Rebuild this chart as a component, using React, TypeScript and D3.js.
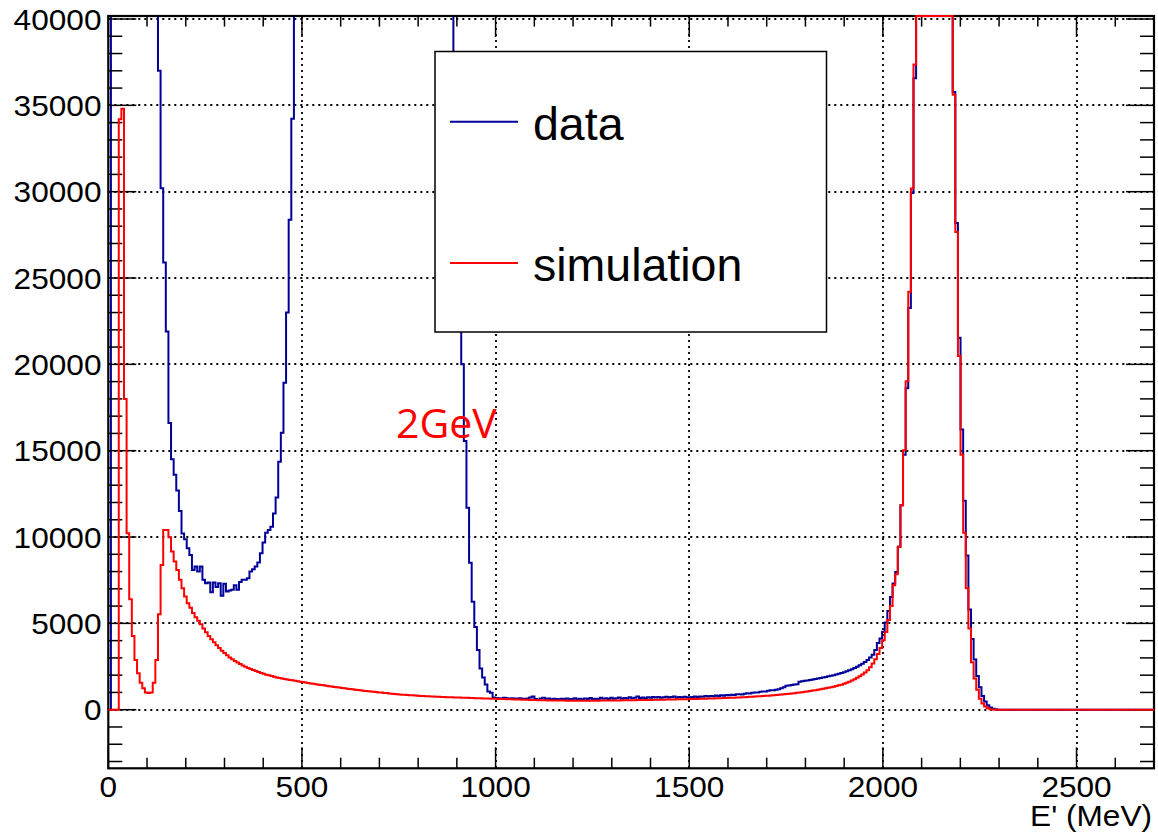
import React from 'react';
import * as d3 from 'd3';

// ---------------- data ----------------
const X_MIN = 0;
const X_MAX = 2700;
const BIN_WIDTH = 6.75; // 400 bins over 0..2700 MeV

// measured data (blue)
const dataCounts: number[] = [
  0, 250000, 240000, 225000, 210000, 190000, 170000, 150000, 130000, 115000,
  100000, 90000, 80000, 72000, 65000, 58000, 52000, 47000, 43000, 37000,
  30200, 25900, 21900, 16600, 14500, 13600, 12700, 11500, 10200, 9870,
  9350, 8960, 8090, 8290, 8000, 8290, 7520, 7320, 7360, 6800,
  7360, 7100, 7320, 6600, 7300, 6850, 6900, 6940, 7200, 6950,
  7400, 7520, 7520, 7610, 8000, 8130, 8290, 8520, 9060, 9680,
  10250, 10400, 10600, 11360, 12290, 14360, 16040, 18940, 23000, 28380,
  34230, 42000, 48000, 55000, 62000, 70000, 78000, 86000, 94000, 102000,
  110000, 118000, 125000, 132000, 138000, 143000, 147000, 150000, 152000, 153000,
  153000, 152000, 150000, 147000, 143000, 139000, 134000, 129000, 124000, 119000,
  114000, 109000, 104000, 99000, 94000, 89000, 85000, 81000, 77000, 73000,
  70000, 67000, 64000, 61000, 58000, 56000, 54000, 52000, 50000, 48500,
  47000, 46000, 45000, 44000, 43500, 43000, 42500, 42000, 41500, 41000,
  40800, 40500, 34000, 28000, 23000, 20000, 15560, 11700, 8510, 6250,
  4790, 3460, 2390, 1860, 1460, 1060, 980, 700, 680, 660,
  650, 690, 660, 640, 670, 650, 630, 660, 640, 620,
  650, 700, 760, 620, 580, 650, 690, 640, 650, 610,
  640, 620, 600, 640, 620, 650, 600, 620, 660, 610,
  630, 600, 650, 620, 680, 620, 640, 610, 690, 640,
  660, 620, 690, 640, 660, 700, 640, 680, 650, 720,
  660, 690, 760, 680, 700, 670, 720, 690, 740, 700,
  730, 690, 720, 750, 700, 730, 760, 710, 740, 700,
  750, 720, 700, 740, 760, 730, 770, 750, 790, 760,
  800, 780, 820, 800, 830, 810, 850, 830, 870, 850,
  890, 900, 880, 920, 950, 940, 980, 1000, 990, 1040,
  1060, 1050, 1100, 1130, 1120, 1160, 1190, 1240, 1300, 1380,
  1400, 1430, 1460, 1480, 1620, 1650, 1670, 1690, 1720, 1750,
  1780, 1810, 1840, 1870, 1900, 1930, 1960, 2000, 2040, 2080,
  2120, 2170, 2220, 2280, 2340, 2410, 2490, 2570, 2660, 2760,
  2880, 3020, 3180, 3460, 3860, 4120, 4520, 5050, 5720, 6520,
  7310, 7980, 9440, 11840, 14760, 18620, 23270, 29920, 36570, 46000,
  56000, 68000, 80000, 91000, 99000, 103000, 102000, 97000, 88000, 76000,
  63000, 52000, 44000, 35770, 28190, 21540, 16220, 12100, 8930, 5800,
  4100, 2900, 1950, 1300, 800, 470, 260, 130, 60, 20,
  0, 0, 0, 0, 0, 0, 0, 0, 0, 0,
  0, 0, 0, 0, 0, 0, 0, 0, 0, 0,
  0, 0, 0, 0, 0, 0, 0, 0, 0, 0,
  0, 0, 0, 0, 0, 0, 0, 0, 0, 0,
  0, 0, 0, 0, 0, 0, 0, 0, 0, 0,
  0, 0, 0, 0, 0, 0, 0, 0, 0, 0,
];

// simulation (red)
const simCounts: number[] = [
  0, 0, 0, 0, 34200, 34800, 18000, 10220, 6400, 4270,
  2880, 2110, 1560, 1240, 1000, 960, 990, 1560, 2880, 5530,
  8380, 10410, 10410, 9990, 9160, 8580, 8090, 7520, 7030, 6550,
  6160, 5900, 5600, 5350, 5150, 4950, 4700, 4480, 4270, 4080,
  3900, 3730, 3570, 3420, 3280, 3150, 3030, 2920, 2820, 2730,
  2640, 2560, 2490, 2420, 2360, 2300, 2240, 2180, 2130, 2080,
  2030, 1990, 1950, 1910, 1870, 1840, 1810, 1780, 1750, 1720,
  1700, 1670, 1650, 1620, 1600, 1570, 1550, 1520, 1500, 1480,
  1450, 1430, 1410, 1380, 1360, 1340, 1320, 1300, 1280, 1260,
  1240, 1220, 1200, 1180, 1160, 1140, 1120, 1100, 1090, 1070,
  1050, 1040, 1020, 1000, 990, 970, 960, 940, 930, 910,
  900, 880, 870, 860, 850, 840, 830, 820, 810, 800,
  790, 785, 775, 770, 760, 755, 745, 740, 735, 725,
  720, 715, 710, 705, 700, 695, 690, 685, 680, 675,
  670, 665, 660, 655, 650, 645, 640, 635, 630, 625,
  620, 615, 610, 605, 600, 595, 590, 585, 580, 575,
  570, 565, 560, 555, 550, 548, 545, 542, 540, 537,
  535, 532, 530, 528, 526, 525, 524, 523, 522, 521,
  520, 520, 520, 520, 520, 522, 524, 525, 526, 528,
  530, 531, 533, 535, 537, 539, 541, 543, 545, 547,
  550, 552, 555, 557, 560, 562, 565, 568, 571, 574,
  577, 580, 583, 586, 589, 592, 595, 598, 601, 604,
  607, 610, 613, 617, 621, 625, 629, 633, 637, 642,
  647, 652, 657, 662, 667, 673, 679, 685, 691, 698,
  705, 712, 720, 728, 736, 745, 754, 763, 772, 782,
  792, 803, 814, 826, 838, 851, 864, 878, 893, 908,
  924, 940, 958, 976, 995, 1015, 1036, 1058, 1081, 1105,
  1130, 1156, 1183, 1211, 1240, 1270, 1302, 1336, 1372, 1410,
  1450, 1500, 1560, 1620, 1690, 1770, 1850, 1940, 2040, 2150,
  2290, 2460, 2670, 2920, 3220, 3580, 4020, 4500, 5200, 6000,
  7200, 7850, 9440, 11840, 15030, 19020, 24200, 30190, 37370, 46000,
  56000, 68000, 80000, 91000, 99000, 103000, 102000, 97000, 88000, 76000,
  63000, 52000, 44000, 35610, 27660, 20480, 14760, 10250, 7040, 4700,
  2750, 1800, 1150, 630, 360, 190, 80, 30, 10, 0,
  0, 0, 0, 0, 0, 0, 0, 0, 0, 0,
  0, 0, 0, 0, 0, 0, 0, 0, 0, 0,
  0, 0, 0, 0, 0, 0, 0, 0, 0, 0,
  0, 0, 0, 0, 0, 0, 0, 0, 0, 0,
  0, 0, 0, 0, 0, 0, 0, 0, 0, 0,
  0, 0, 0, 0, 0, 0, 0, 0, 0, 0,
];

const xMajorTicks = [0, 500, 1000, 1500, 2000, 2500];
const yMajorTicks = [0, 5000, 10000, 15000, 20000, 25000, 30000, 35000, 40000];
const legendLabels = ['data', 'simulation'];
const xTitle = "E' (MeV)";
const annotation = '2GeV';

const BLUE = '#000099';
const RED = '#ff0000';
const FONT = "'Liberation Sans', Arial, Helvetica, sans-serif";
const SX = 1.09; // horizontal stretch of axis text

export default function App() {
  const W = 1158;
  const H = 837;
  const fL = 108.3, fR = 1154, fT = 16, fB = 768.3;

  const x = d3.scaleLinear().domain([X_MIN, X_MAX]).range([fL, fR]);
  const y = d3.scaleLinear().domain([0, 40000]).range([709.7, 19]);
  const yLo = y.invert(fB);
  const yHi = y.invert(fT);

  const histPath = (counts: number[]) => {
    const clamp = (v: number) => Math.max(yLo, Math.min(yHi, v));
    const pts: [number, number][] = counts.map((c, i) => [X_MIN + i * BIN_WIDTH, clamp(c)]);
    pts.push([X_MIN + counts.length * BIN_WIDTH, clamp(counts[counts.length - 1])]);
    return d3
      .line<[number, number]>()
      .x((d) => x(d[0]))
      .y((d) => y(d[1]))
      .curve(d3.curveStepAfter)(pts) as string;
  };

  const xMinor = d3.range(0, X_MAX + 1, 100).filter((v) => v % 500 !== 0);
  const yMinor = d3.range(-3000, 40001, 1000).filter((v) => v % 5000 !== 0);

  const xMajLen = 21, xMinLen = 10.6, yMajLen = 28, yMinLen = 14;

  const axisText = (key: string, tx: number, ty: number, anchor: string, label: string | number) => (
    <text
      key={key}
      transform={`translate(${tx},${ty}) scale(${SX},1)`}
      textAnchor={anchor}
      fontFamily={FONT}
      fontSize={29}
      fill="#000"
    >
      {label}
    </text>
  );

  return (
    <svg
      width={W}
      height={H}
      viewBox={`0 0 ${W} ${H}`}
      style={{ position: 'absolute', left: 0, top: 0, background: '#fff' }}
    >
      <rect x={0} y={0} width={W} height={H} fill="#fff" />
      {/* grid */}
      <g stroke="#000" strokeWidth={1.8} strokeDasharray="2,4">
        {xMajorTicks.filter((v) => v > X_MIN).map((v) => (
          <line key={'gx' + v} x1={Math.round(x(v))} x2={Math.round(x(v))} y1={fT} y2={fB} />
        ))}
        {yMajorTicks.map((v) => (
          <line key={'gy' + v} x1={fL} x2={fR} y1={Math.round(y(v))} y2={Math.round(y(v))} />
        ))}
      </g>

      {/* data histogram */}
      <path d={histPath(dataCounts)} fill="none" stroke={BLUE} strokeWidth={2} />

      {/* frame and ticks */}
      <g stroke="#000" strokeWidth={1.5} fill="none">
        {xMajorTicks.map((v) => (
          <g key={'xt' + v}>
            <line x1={x(v)} x2={x(v)} y1={fB} y2={fB - xMajLen} />
            <line x1={x(v)} x2={x(v)} y1={fT} y2={fT + xMajLen} />
          </g>
        ))}
        {xMinor.map((v) => (
          <g key={'xm' + v}>
            <line x1={x(v)} x2={x(v)} y1={fB} y2={fB - xMinLen} />
            <line x1={x(v)} x2={x(v)} y1={fT} y2={fT + xMinLen} />
          </g>
        ))}
        {yMajorTicks.map((v) => (
          <g key={'yt' + v}>
            <line x1={fL} x2={fL + yMajLen} y1={y(v)} y2={y(v)} />
            <line x1={fR} x2={fR - yMajLen} y1={y(v)} y2={y(v)} />
          </g>
        ))}
        {yMinor.map((v) => (
          <g key={'ym' + v}>
            <line x1={fL} x2={fL + yMinLen} y1={y(v)} y2={y(v)} />
            <line x1={fR} x2={fR - yMinLen} y1={y(v)} y2={y(v)} />
          </g>
        ))}
        <rect x={fL} y={fT} width={fR - fL} height={fB - fT} strokeWidth={2.2} />
      </g>

      {/* simulation histogram */}
      <path d={histPath(simCounts)} fill="none" stroke={RED} strokeWidth={2} />

      {/* tick labels */}
      <g>
        {xMajorTicks.map((v) => axisText('xl' + v, x(v), 797, 'middle', v))}
        {yMajorTicks.map((v) => axisText('yl' + v, 101.5, y(v) + 10.5, 'end', v))}
        {axisText('xtitle', 1152, 826, 'end', xTitle)}
      </g>

      {/* annotation */}
      <text x={396} y={438} fontFamily="'Open Sans', 'Noto Sans', sans-serif" fontSize={41} fill={RED}>
        {annotation}
      </text>

      {/* legend */}
      <g>
        <rect x={435} y={51.5} width={391.5} height={280.5} fill="#fff" stroke="#000" strokeWidth={1.5} />
        <line x1={450} x2={518} y1={121.7} y2={121.7} stroke={BLUE} strokeWidth={2} />
        <line x1={450} x2={518} y1={263} y2={263} stroke={RED} strokeWidth={2} />
        <text x={533} y={139.5} fontFamily={FONT} fontSize={46.5} fill="#000">
          {legendLabels[0]}
        </text>
        <text x={533} y={281} fontFamily={FONT} fontSize={46.5} fill="#000">
          {legendLabels[1]}
        </text>
      </g>
    </svg>
  );
}
